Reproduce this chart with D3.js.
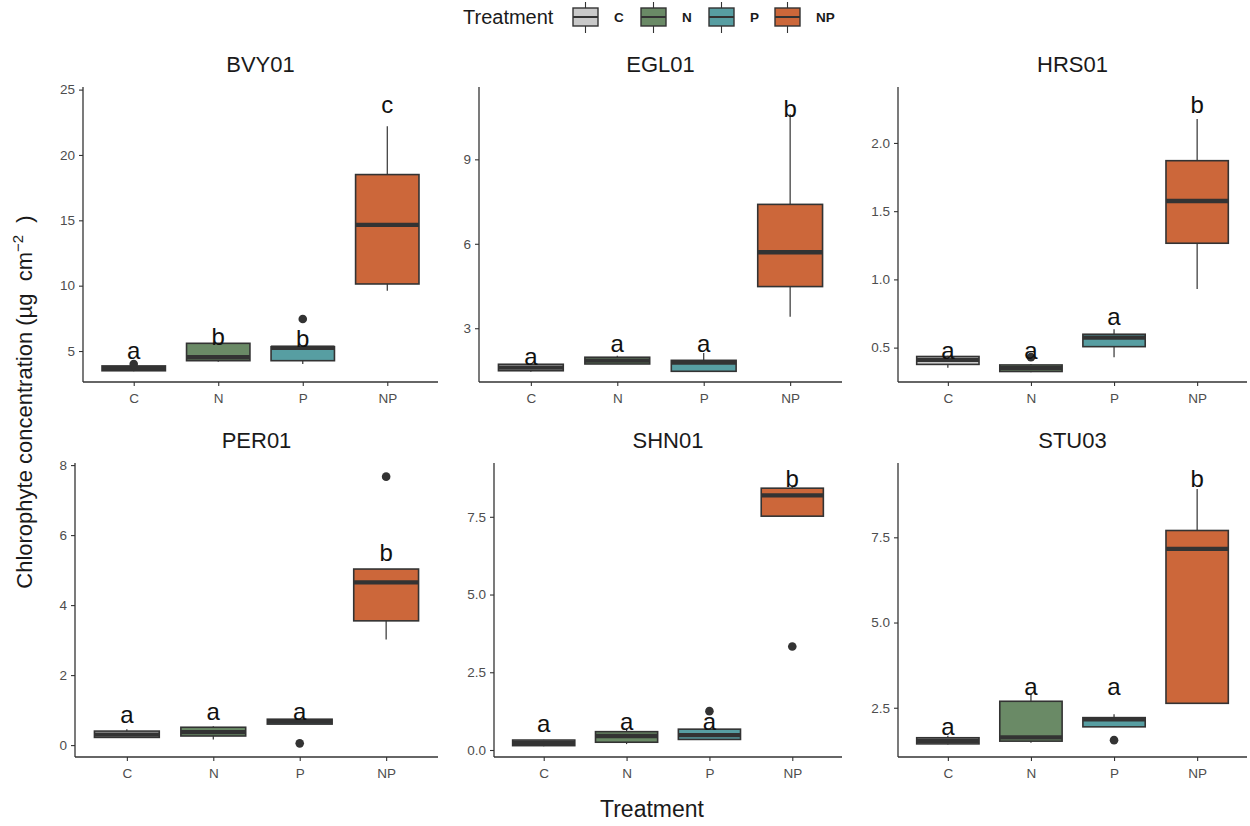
<!DOCTYPE html>
<html>
<head>
<meta charset="utf-8">
<script src="https://cdn.jsdelivr.net/npm/d3@7"></script>
<style>
  body { margin: 0; background: #fff; }
  svg { font-family: "Liberation Sans", Arial, sans-serif; }
</style>
</head>
<body>
<script>
// data
const sites = ["BVY01", "EGL01", "HRS01", "PER01", "SHN01", "STU03"]
const treatments = ["C", "N", "P", "NP"]
const fillColors = ["#c9c9c9", "#6a8a66", "#579ea2", "#cc673a"]

const whiskerLow = [
  [3.45, 4.18, 4.0, 9.62],
  [1.45, 1.73, 1.45, 3.41],
  [0.353, 0.32, 0.43, 0.93],
  [0.2, 0.16, 0.6, 3.02],
  [0.12, 0.19, 0.33, 7.52],
  [1.42, 1.47, 1.94, 2.63]
]
const q1 = [
  [3.49, 4.26, 4.26, 10.13],
  [1.49, 1.73, 1.47, 4.48],
  [0.377, 0.325, 0.507, 1.265],
  [0.22, 0.26, 0.6, 3.55],
  [0.14, 0.25, 0.34, 7.52],
  [1.44, 1.52, 1.94, 2.63]
]
const median = [
  [3.68, 4.52, 5.25, 14.65],
  [1.6, 1.85, 1.78, 5.7],
  [0.41, 0.35, 0.573, 1.574],
  [0.3, 0.37, 0.67, 4.65],
  [0.23, 0.45, 0.48, 8.19],
  [1.53, 1.63, 2.16, 7.16]
]
const q3 = [
  [3.86, 5.59, 5.33, 18.5],
  [1.72, 1.97, 1.86, 7.4],
  [0.435, 0.373, 0.598, 1.87],
  [0.4, 0.51, 0.74, 5.03],
  [0.32, 0.59, 0.67, 8.42],
  [1.62, 2.69, 2.21, 7.7]
]
const whiskerHigh = [
  [3.9, 5.59, 5.33, 22.2],
  [1.75, 2.02, 2.12, 10.6],
  [0.44, 0.38, 0.635, 2.176],
  [0.45, 0.54, 0.74, 5.03],
  [0.33, 0.70, 0.67, 8.5],
  [1.68, 2.92, 2.31, 8.92]
]
const outliers = [
  [[4.0], [], [7.45], []],
  [[], [], [], []],
  [[], [0.43], [], []],
  [[], [], [0.05], [7.67]],
  [[], [], [1.25], [3.33]],
  [[], [], [1.55], []]
]
const letters = [
  ["a", "b", "b", "c"],
  ["a", "a", "a", "b"],
  ["a", "a", "a", "b"],
  ["a", "a", "a", "b"],
  ["a", "a", "a", "b"],
  ["a", "a", "a", "b"]
]
const letterY = [
  [4.39, 5.46, 5.33, 23.2],
  [1.70, 2.17, 2.17, 10.52],
  [0.42, 0.42, 0.667, 2.22],
  [0.64, 0.71, 0.73, 5.26],
  [0.59, 0.64, 0.64, 8.47],
  [1.70, 2.88, 2.88, 8.98]
]
const yDomains = [
  [2.63, 25.2], [1.09, 11.57], [0.248, 2.41],
  [-0.34, 8.06], [-0.225, 9.23], [1.055, 9.68]
]
const yTicks = [
  [5, 10, 15, 20, 25], [3, 6, 9], [0.5, 1.0, 1.5, 2.0],
  [0, 2, 4, 6, 8], [0.0, 2.5, 5.0, 7.5], [2.5, 5.0, 7.5]
]
const yFormats = ["d", "d", ".1f", "d", ".1f", ".1f"]

// panel frames (left, right) and rows (top, bottom)
const panelX = [[83, 438], [479, 842], [898, 1247], [75, 438], [494, 842], [898, 1247]]
const rowY = [[87, 382], [463, 757]]

const dark = "#333333"

var svg = d3.select("body").append("svg")
    .attr("width", 1250)
    .attr("height", 826)

sites.forEach(function(site, i) {
  var row = i < 3 ? 0 : 1
  var x = d3.scalePoint().domain(treatments).range(panelX[i]).padding(0.6)
  var y = d3.scaleLinear().domain(yDomains[i]).range([rowY[row][1], rowY[row][0]])
  var bw = x.step() * 0.75

  var g = svg.append("g")

  // title
  g.append("text")
    .attr("x", (panelX[i][0] + panelX[i][1]) / 2)
    .attr("y", rowY[row][0] - 15)
    .attr("text-anchor", "middle")
    .style("font-size", "22px")
    .style("fill", "#1a1a1a")
    .text(site)

  // axes
  var yAxis = g.append("g")
    .attr("transform", "translate(" + panelX[i][0] + ",0)")
    .call(d3.axisLeft(y).tickValues(yTicks[i]).tickFormat(d3.format(yFormats[i])).tickSizeOuter(0).tickSize(4).tickPadding(4))
  var xAxis = g.append("g")
    .attr("transform", "translate(0," + rowY[row][1] + ")")
    .call(d3.axisBottom(x).tickSizeOuter(0).tickSize(4).tickPadding(7))
  ;[yAxis, xAxis].forEach(function(a) {
    a.select(".domain").attr("stroke", dark).attr("stroke-width", 1.3)
    a.selectAll(".tick line").attr("stroke", dark).attr("stroke-width", 1.1)
    a.selectAll(".tick text").style("font-size", "13.5px").style("fill", "#4d4d4d").style("font-family", "Liberation Sans, Arial, sans-serif")
  })
  xAxis.select(".domain").attr("d", "M" + panelX[i][0] + ",0H" + panelX[i][1])
  yAxis.select(".domain").attr("d", "M0," + rowY[row][0] + "V" + rowY[row][1])

  var boxes = g.append("g").selectAll("g")
    .data(treatments)
    .enter()
    .append("g")

  // whiskers
  boxes.append("line")
    .attr("x1", d => x(d)).attr("x2", d => x(d))
    .attr("y1", (d, j) => y(whiskerLow[i][j]))
    .attr("y2", (d, j) => y(whiskerHigh[i][j]))
    .attr("stroke", dark)
    .attr("stroke-width", 1.2)

  boxes.append("rect")
    .attr("x", d => x(d) - bw / 2)
    .attr("width", bw)
    .attr("y", (d, j) => y(q3[i][j]))
    .attr("height", (d, j) => y(q1[i][j]) - y(q3[i][j]))
    .attr("fill", (d, j) => fillColors[j])
    .attr("stroke", dark)
    .attr("stroke-width", 1.6)

  boxes.append("line")
    .attr("x1", d => x(d) - bw / 2).attr("x2", d => x(d) + bw / 2)
    .attr("y1", (d, j) => y(median[i][j]))
    .attr("y2", (d, j) => y(median[i][j]))
    .attr("stroke", dark)
    .attr("stroke-width", 4.4)

  boxes.selectAll("circle")
    .data((d, j) => outliers[i][j].map(v => ({ t: d, v: v })))
    .enter()
    .append("circle")
    .attr("cx", d => x(d.t))
    .attr("cy", d => y(d.v))
    .attr("r", 4.3)
    .attr("fill", dark)

  boxes.append("text")
    .attr("x", d => x(d))
    .attr("y", (d, j) => y(letterY[i][j]))
    .attr("text-anchor", "middle")
    .style("font-size", "24px")
    .style("fill", "#111")
    .text((d, j) => letters[i][j])
})

// axis titles
svg.append("text")
  .attr("x", 652)
  .attr("y", 817)
  .attr("text-anchor", "middle")
  .style("font-size", "23px")
  .style("fill", "#1a1a1a")
  .text("Treatment")

var ytitle = svg.append("text")
  .attr("transform", "translate(32,402) rotate(-90)")
  .attr("text-anchor", "middle")
  .style("font-size", "22px")
  .style("white-space", "pre")
  .style("fill", "#1a1a1a")
ytitle.append("tspan").text("Chlorophyte concentration (\u00b5g  cm")
ytitle.append("tspan").attr("dy", -9).style("font-size", "15px").text("\u22122")
ytitle.append("tspan").attr("dy", 9).text("  )")

// legend
var legend = svg.append("g")
legend.append("text")
  .attr("x", 463).attr("y", 24)
  .style("font-size", "20px")
  .style("fill", "#1a1a1a")
  .text("Treatment")

const legendKeyX = [573, 641, 709, 775]
var keys = legend.selectAll("g.key")
  .data(treatments)
  .enter()
  .append("g")
  .attr("class", "key")
  .attr("transform", (d, j) => "translate(" + legendKeyX[j] + ",0)")
keys.append("line")
  .attr("x1", 12.5).attr("x2", 12.5).attr("y1", 2).attr("y2", 33)
  .attr("stroke", dark).attr("stroke-width", 1.1)
keys.append("rect")
  .attr("x", 0).attr("y", 8).attr("width", 25).attr("height", 18)
  .attr("fill", (d, j) => fillColors[j])
  .attr("stroke", dark).attr("stroke-width", 1.4)
keys.append("line")
  .attr("x1", 0).attr("x2", 25).attr("y1", 17).attr("y2", 17)
  .attr("stroke", dark).attr("stroke-width", 2)
keys.append("text")
  .attr("x", 41).attr("y", 22)
  .style("font-size", "13.5px")
  .style("font-weight", "bold")
  .style("fill", "#1a1a1a")
  .text(d => d)
</script>
</body>
</html>
